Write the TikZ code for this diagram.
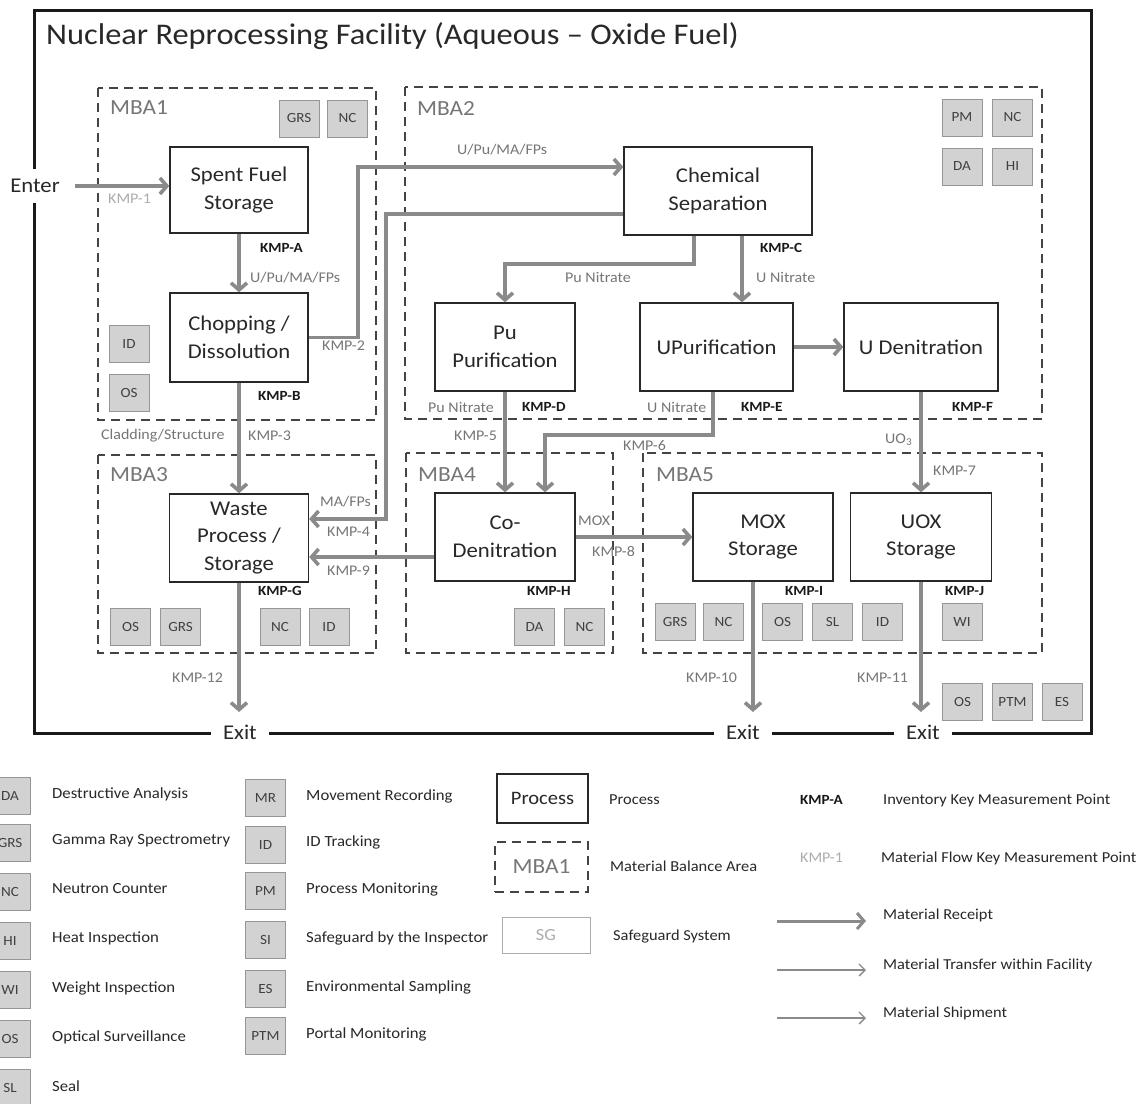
\documentclass[tikz,border=0pt]{standalone}
\usepackage{fontspec}
\setmainfont{Carlito}[FakeStretch=1.08]
\usetikzlibrary{arrows.meta,calc}
\definecolor{flowgray}{RGB}{138,138,138}
\definecolor{labgray}{RGB}{118,118,118}
\definecolor{lightlab}{RGB}{172,172,172}
\definecolor{sgfill}{RGB}{210,210,210}
\definecolor{sgline}{RGB}{150,150,150}
\definecolor{mbaline}{RGB}{68,68,68}
\definecolor{inkdark}{RGB}{40,40,40}
\newcommand{\pxfont}[1]{\fontsize{#1}{#1}\selectfont}
\tikzset{
  proc/.style={draw=inkdark, line width=1.4, fill=white, align=center, text=inkdark,
    font={\fontsize{21}{27.5}\selectfont}, inner sep=0},
  mba/.style={draw=mbaline, line width=2.2, dash pattern=on 9pt off 6pt},
  mbalab/.style={anchor=west, text=labgray, font=\pxfont{21.6}, inner sep=0},
  sg/.style={draw=sgline, fill=sgfill, line width=0.8, minimum width=40, minimum height=37,
    inner sep=0, font=\pxfont{14}, text=black!75},
  flow/.style={draw=flowgray, line width=3.6, line join=miter,
    -{Straight Barb[length=7pt,width=16pt]}},
  thinflow/.style={draw=flowgray, line width=1.3,
    -{Straight Barb[length=6pt,width=12pt]}},
  kmpb/.style={anchor=west, inner sep=0, text=black!90, font={\pxfont{14}\bfseries}},
  kmpg/.style={anchor=west, inner sep=0, text=labgray, font=\pxfont{14.8}},
  gate/.style={fill=white, text=inkdark, font=\pxfont{21}, inner xsep=12, inner ysep=3},
  legtxt/.style={anchor=west, inner sep=0, text=inkdark, font=\pxfont{15.5}},
  legtxtr/.style={anchor=west, inner sep=0, text=inkdark, font=\pxfont{15.2}},
}
\begin{document}
\begin{tikzpicture}[x=1pt,y=-1pt]
\clip (0,0) rectangle (1137,1103);
\fill[white] (0,0) rectangle (1137,1103);

% facility boundary and title
\draw[line width=3, black!90] (34,10) rectangle (1091,733);
\node[anchor=west, inner sep=0, text=inkdark, font=\pxfont{30}] (title) at (46,36)
  {Nuclear Reprocessing Facility (Aqueous -- Oxide Fuel)};

% material balance areas
\draw[mba] (98,88) rectangle (376,420);
\draw[mba] (405,87) rectangle (1042,419);
\draw[mba] (98,455) rectangle (376,653);
\draw[mba] (406,453) rectangle (613,653);
\draw[mba] (643,453) rectangle (1042,653);
\node[mbalab] (mba1) at (110,108) {MBA1};
\node[mbalab] (mba2) at (417,108) {MBA2};
\node[mbalab] (mba3) at (110,475) {MBA3};
\node[mbalab] (mba4) at (418,475) {MBA4};
\node[mbalab] (mba5) at (656,475) {MBA5};

% process steps
\node[proc, minimum width=138, minimum height=86] (sfs) at (239,190) {Spent Fuel\\Storage};
\node[proc, minimum width=138, minimum height=89] (chop) at (239,337.5) {Chopping /\\Dissolution};
\node[proc, minimum width=188, minimum height=88] (chem) at (718,191) {Chemical\\Separation};
\node[proc, minimum width=140, minimum height=88] (pu) at (505,347) {Pu\\Purification};
\node[proc, minimum width=153, minimum height=88] (upur) at (716.5,347) {UPurification};
\node[proc, minimum width=154, minimum height=88] (uden) at (921,347) {U Denitration};
\node[proc, minimum width=139, minimum height=88] (waste) at (239,538) {Waste\\Process /\\Storage};
\node[proc, minimum width=140, minimum height=88] (codn) at (505,537) {Co-\\Denitration};
\node[proc, minimum width=140, minimum height=88] (mox) at (763,537) {MOX\\Storage};
\node[proc, minimum width=141, minimum height=88] (uox) at (921,537) {UOX\\Storage};

% safeguard systems
\node[sg] (g1) at (299,118.5) {GRS};
\node[sg] (g2) at (347.5,118.5) {NC};
\node[sg] (g3) at (129,344) {ID};
\node[sg] (g4) at (129,392.5) {OS};
\node[sg] (g5) at (962,117.5) {PM};
\node[sg] (g6) at (1012.5,117.5) {NC};
\node[sg] (g7) at (962,166.5) {DA};
\node[sg] (g8) at (1012.5,166.5) {HI};
\node[sg] (g9) at (130.5,626.5) {OS};
\node[sg] (g10) at (180.5,626.5) {GRS};
\node[sg] (g11) at (280,626.5) {NC};
\node[sg] (g12) at (329,626.5) {ID};
\node[sg] (g13) at (534.5,626.5) {DA};
\node[sg] (g14) at (584.5,626.5) {NC};
\node[sg] (g15) at (675,621.5) {GRS};
\node[sg] (g16) at (723.5,621.5) {NC};
\node[sg] (g17) at (782.5,621.5) {OS};
\node[sg] (g18) at (832.5,621.5) {SL};
\node[sg] (g19) at (882.5,621.5) {ID};
\node[sg] (g20) at (962,621.5) {WI};
\node[sg] (g21) at (962.5,701.5) {OS};
\node[sg] (g22) at (1012.5,701.5) {PTM};
\node[sg] (g23) at (1062,701.5) {ES};

% entry and exits on the boundary
\node[gate, inner xsep=2, inner ysep=10] (enter) at (35,186) {Enter};
\node[gate] (exit1) at (240,732) {Exit};
\node[gate] (exit2) at (743,732) {Exit};
\node[gate] (exit3) at (923,732) {Exit};

% routing points
\coordinate (inpt) at (75,186);
\coordinate (c2) at (358,167);
\coordinate (c4) at (386,214);
\coordinate (c4b) at (386,519);
\coordinate (c5) at (694,264);
\coordinate (c6) at (742,270);
\coordinate (c9) at (713,435);
\coordinate (c9b) at (545,435);
\coordinate (c12) at (400,557);
\coordinate (c14) at (753,712);

% material flows
\draw[flow] (inpt) -- (inpt -| sfs.west);
\draw[flow] (sfs) -- (chop);
\draw[flow] (chop.east) -| (c2) -- (c2 -| chem.west);
\draw[flow] (c4 -| chem.west) -- (c4) -- (c4b) -- (c4b -| waste.east);
\draw[flow] (c5 |- chem.south) -- (c5) -| (pu.north);
\draw[flow] (c6 |- chem.south) -- (c6 |- upur.north);
\draw[flow] (upur) -- (uden);
\draw[flow] (chop) -- (waste);
\draw[flow] (pu) -- (codn);
\draw[flow] (c9 |- upur.south) -- (c9) -- (c9b) -- (c9b |- codn.north);
\draw[flow] (uden) -- (uox);
\draw[flow] (codn.west |- c12) -- (waste.east |- c12);
\draw[flow] (codn) -- (mox);
\draw[flow] (c14 |- mox.south) -- (c14);
\draw[flow] (uox.south) -- (uox.south |- c14);
\draw[flow] (waste.south) -- (waste.south |- c14);

% key measurement points and stream labels
\node[kmpg, text=lightlab] (k1) at (108,199) {KMP-1};
\node[kmpb] (ka) at (260,248) {KMP-A};
\node[kmpg] (s1) at (250,278) {U/Pu/MA/FPs};
\node[kmpg] (k2) at (322,346) {KMP-2};
\node[kmpb] (kb) at (258,396) {KMP-B};
\node[kmpg] (s2) at (101,436) {Cladding/Structure};
\node[kmpg] (k3) at (248,436) {KMP-3};
\node[kmpg] (s3) at (457,150) {U/Pu/MA/FPs};
\node[kmpb] (kc) at (760,248) {KMP-C};
\node[kmpg] (s4) at (565,277) {Pu Nitrate};
\node[kmpg] (s5) at (756,277) {U Nitrate};
\node[kmpg] (s6) at (428,407) {Pu Nitrate};
\node[kmpb] (kd) at (522,407) {KMP-D};
\node[kmpg] (s7) at (647,407) {U Nitrate};
\node[kmpb] (ke) at (741,407) {KMP-E};
\node[kmpb] (kf) at (952,407) {KMP-F};
\node[kmpg] (k5) at (454,436) {KMP-5};
\node[kmpg] (k6) at (623,446) {KMP-6};
\node[kmpg] (s8) at (885,440) {UO\textsubscript{3}};
\node[kmpg] (k7) at (933,471) {KMP-7};
\node[kmpg] (s9) at (320,502) {MA/FPs};
\node[kmpg] (k4) at (327,532) {KMP-4};
\node[kmpg] (k9) at (327,571) {KMP-9};
\node[kmpg] (s10) at (578,521) {MOX};
\node[kmpg] (k8) at (592,551) {KMP-8};
\node[kmpb] (kg) at (258,591) {KMP-G};
\node[kmpb] (kh) at (527,591) {KMP-H};
\node[kmpb] (ki) at (785,591) {KMP-I};
\node[kmpb] (kj) at (945,591) {KMP-J};
\node[kmpg] (k12) at (172,678) {KMP-12};
\node[kmpg] (k10) at (686,678) {KMP-10};
\node[kmpg] (k11) at (857,678) {KMP-11};

% legend: safeguard systems
\node[sg] (la1) at (10,795.5) {DA};
\node[sg] (la2) at (10,842.5) {GRS};
\node[sg] (la3) at (10,891.5) {NC};
\node[sg] (la4) at (10,941) {HI};
\node[sg] (la5) at (10,990) {WI};
\node[sg] (la6) at (10,1038.5) {OS};
\node[sg] (la7) at (10,1087.5) {SL};
\node[legtxt] at (52,794) {Destructive Analysis};
\node[legtxt] at (52,841) {Gamma Ray Spectrometry};
\node[legtxt] at (52,889) {Neutron Counter};
\node[legtxt] at (52,938) {Heat Inspection};
\node[legtxt] at (52,988) {Weight Inspection};
\node[legtxt] at (52,1037) {Optical Surveillance};
\node[legtxt] at (52,1086) {Seal};

\node[sg] (lb1) at (265.5,797.5) {MR};
\node[sg] (lb2) at (265.5,844.5) {ID};
\node[sg] (lb3) at (265.5,891) {PM};
\node[sg] (lb4) at (265.5,940) {SI};
\node[sg] (lb5) at (265.5,989) {ES};
\node[sg] (lb6) at (265.5,1036) {PTM};
\node[legtxt] at (306,796) {Movement Recording};
\node[legtxt] at (306,842) {ID Tracking};
\node[legtxt] at (306,889) {Process Monitoring};
\node[legtxt] at (306,938) {Safeguard by the Inspector};
\node[legtxt] at (306,987) {Environmental Sampling};
\node[legtxt] at (306,1034) {Portal Monitoring};

% legend: symbols
\node[proc, font=\pxfont{19}, minimum width=91, minimum height=49] (lproc) at (542.5,798.5) {Process};
\node[legtxtr] at (609,800) {Process};
\node[mba, text=labgray, font=\pxfont{21.6}, minimum width=93, minimum height=50] (lmba) at (541.5,867) {MBA1};
\node[legtxtr] at (610,866) {Material Balance Area};
\node[draw=lightlab, line width=0.8, text=lightlab, font=\pxfont{17}, minimum width=88, minimum height=36] (lsg) at (546,935) {SG};
\node[legtxtr] at (613,937) {Safeguard System};

\node[kmpb] (lka) at (800,800) {KMP-A};
\node[legtxtr] at (883,800) {Inventory Key Measurement Point};
\node[kmpg, text=lightlab] (lk1) at (800,858) {KMP-1};
\node[legtxtr] at (881,858) {Material Flow Key Measurement Point};

\coordinate (r1a) at (777,921);
\coordinate (r1b) at (866,921);
\coordinate (r2a) at (777,970);
\coordinate (r2b) at (866,970);
\coordinate (r3a) at (777,1018);
\coordinate (r3b) at (866,1018);
\draw[flow, line width=3] (r1a) -- (r1b);
\draw[thinflow] (r2a) -- (r2b);
\draw[thinflow] (r3a) -- (r3b);
\node[legtxtr] at (883,915) {Material Receipt};
\node[legtxtr] at (883,965) {Material Transfer within Facility};
\node[legtxtr] at (883,1013) {Material Shipment};
\end{tikzpicture}
\end{document}
